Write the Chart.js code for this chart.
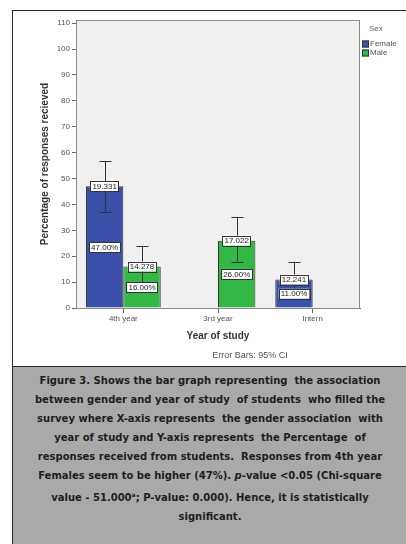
<!DOCTYPE html>
<html>
<head>
<meta charset="utf-8">
<script src="https://cdn.jsdelivr.net/npm/chart.js@4"></script>
<style>
  html, body { margin: 0; padding: 0; background: #fff; width: 406px; height: 544px; overflow: hidden; }
  #frame { position: absolute; left: 12px; top: 10px; width: 400px; height: 355px; border: 1.5px solid #2a2a2a; }
  #chart { position: absolute; left: 0; top: 0; }
  #caption {
    position: absolute; left: 12px; top: 366px; width: 400px; height: 190px;
    background: #a9a9a9; border-left: 1.5px solid #2a2a2a; border-top: 1.5px solid #2a2a2a;
    font-family: "DejaVu Sans", Verdana, sans-serif; font-weight: bold; font-size: 10px;
    color: #1e1e1e; line-height: 19px; text-align: center; padding-top: 4px; box-sizing: border-box;
  }
  #caption .inner { width: 394px; }
</style>
</head>
<body>
<div id="frame"></div>
<canvas id="chart" width="406" height="368"></canvas>
<div id="caption"><div class="inner">
Figure 3. Shows the bar graph representing &nbsp;the association<br>
between gender and year of study &nbsp;of students &nbsp;who filled the<br>
survey where X-axis represents &nbsp;the gender association &nbsp;with<br>
year of study and Y-axis represents &nbsp;the Percentage &nbsp;of<br>
responses received from students. &nbsp;Responses from 4th year<br>
Females seem to be higher (47%). <i>p</i>-value &lt;0.05 (Chi-square<br>
value - 51.000<sup style="font-size:6px">a</sup>; P-value: 0.000). Hence, it is statistically<br>
significant.
</div></div>
<script>
// Categories on the x axis
const categories = ["4th year", "3rd year", "Intern"];

// Bar heights (percent of responses) per sex
const femaleValues = [47, null, 11];
const maleValues = [16, 26, null];

// 95% CI error bar ends
const femaleLow = [37.2, null, 4.3];
const femaleHigh = [56.8, null, 17.8];
const maleLow = [8.2, 17.9, null];
const maleHigh = [23.9, 35.2, null];

// Numbers printed in the box at the top of each bar
const femaleStat = ["19.331", null, "12.241"];
const maleStat = ["14.278", "17.022", null];

// Y axis ticks
const yTicks = [0, 10, 20, 30, 40, 50, 60, 70, 80, 90, 100, 110];

const errorLow = [femaleLow, maleLow];
const errorHigh = [femaleHigh, maleHigh];
const topStats = [femaleStat, maleStat];

function labelBox(ctx, text, x, y) {
    ctx.font = "8px Arial, 'Liberation Sans'";
    const w = ctx.measureText(text).width + 4;
    const h = 10;
    ctx.fillStyle = "#ffffff";
    ctx.fillRect(x - w / 2, y - h / 2, w, h);
    ctx.strokeStyle = "#333";
    ctx.lineWidth = 1;
    ctx.strokeRect(Math.round(x - w / 2) + 0.5, Math.round(y - h / 2) + 0.5, Math.round(w), h);
    ctx.fillStyle = "#222";
    ctx.textAlign = "center";
    ctx.textBaseline = "middle";
    ctx.fillText(text, x, y + 0.5);
}

// Plot background, frame, error bars, label boxes, legend and note
const spssPlugin = {
    id: "spss",
    beforeDatasetsDraw(chart) {
        const { ctx, chartArea: a } = chart;
        ctx.save();
        ctx.fillStyle = "#f0f0f0";
        ctx.fillRect(a.left, a.top, a.right - a.left, a.bottom - a.top);
        ctx.restore();
    },
    afterDatasetsDraw(chart) {
        const { ctx, chartArea: a } = chart;
        const yScale = chart.scales.y;
        ctx.save();
        ctx.strokeStyle = "#8a8a8a";
        ctx.lineWidth = 1;
        ctx.strokeRect(a.left + 0.5, a.top + 0.5, a.right - a.left - 1, a.bottom - a.top);

        chart.data.datasets.forEach((ds, di) => {
            const meta = chart.getDatasetMeta(di);
            meta.data.forEach((bar, i) => {
                if (ds.data[i] == null) return;
                const x = Math.round(bar.x) + 0.5;
                const lo = yScale.getPixelForValue(errorLow[di][i]);
                const hi = yScale.getPixelForValue(errorHigh[di][i]);
                ctx.strokeStyle = "#333";
                ctx.lineWidth = 1;
                ctx.beginPath();
                ctx.moveTo(x, lo); ctx.lineTo(x, hi);
                ctx.moveTo(x - 6, Math.round(hi) + 0.5); ctx.lineTo(x + 6, Math.round(hi) + 0.5);
                ctx.moveTo(x - 6, Math.round(lo) + 0.5); ctx.lineTo(x + 6, Math.round(lo) + 0.5);
                ctx.stroke();
            });
        });
        chart.data.datasets.forEach((ds, di) => {
            const meta = chart.getDatasetMeta(di);
            meta.data.forEach((bar, i) => {
                const v = ds.data[i];
                if (v == null) return;
                labelBox(ctx, topStats[di][i], bar.x, yScale.getPixelForValue(v));
                labelBox(ctx, v.toFixed(2) + "%", bar.x, yScale.getPixelForValue(v / 2));
            });
        });

        // legend
        ctx.font = "8px Arial, 'Liberation Sans'";
        ctx.textAlign = "left";
        ctx.textBaseline = "middle";
        ctx.fillStyle = "#666";
        ctx.fillText("Sex", 369, 29);
        chart.data.datasets.forEach((ds, di) => {
            const y = 44 + di * 9;
            ctx.fillStyle = ds.backgroundColor;
            ctx.fillRect(362, y - 3.5, 7, 7);
            ctx.strokeStyle = "#333";
            ctx.strokeRect(362.5, y - 3, 6, 6);
            ctx.fillStyle = "#555";
            ctx.fillText(ds.label, 370, y);
        });

        ctx.font = "9px Arial, 'Liberation Sans'";
        ctx.textAlign = "center";
        ctx.fillStyle = "#555";
        ctx.fillText("Error Bars: 95% CI", 250, 356);
        ctx.restore();
    }
};

new Chart(document.getElementById("chart"), {
    type: "bar",
    data: {
        labels: categories,
        datasets: [
            { label: "Female", data: femaleValues, backgroundColor: "#3b50a8", borderColor: "#333", borderWidth: 1 },
            { label: "Male", data: maleValues, backgroundColor: "#33b845", borderColor: "#333", borderWidth: 1 }
        ]
    },
    options: {
        responsive: false,
        devicePixelRatio: 1,
        animation: false,
        categoryPercentage: 0.79,
        barPercentage: 1,
        layout: { padding: { left: 38, top: 20, right: 46, bottom: 26 } },
        plugins: {
            legend: { display: false },
            tooltip: { enabled: false }
        },
        scales: {
            x: {
                grid: { display: true, drawOnChartArea: false, drawTicks: true, tickLength: 5, tickColor: "#666", offset: false },
                border: { color: "#666" },
                ticks: { color: "#555", font: { size: 8, family: "Arial" }, padding: 1 },
                title: { display: true, text: "Year of study", color: "#333", font: { size: 10, weight: "bold", family: "Arial" }, padding: 0 },
                afterFit(scale) { scale.height = 34; }
            },
            y: {
                min: 0,
                max: 111.2,
                grid: { display: true, drawOnChartArea: false, drawTicks: true, tickLength: 4, tickColor: "#666" },
                border: { color: "#555" },
                ticks: { stepSize: 10, color: "#555", font: { size: 8, family: "Arial" }, padding: 2 },
                afterBuildTicks(scale) { scale.ticks = yTicks.map(v => ({ value: v })); },
                title: { display: true, text: "Percentage of responses recieved", color: "#333", font: { size: 10, weight: "bold", family: "Arial" }, padding: { top: 1, bottom: 0 } },
                afterFit(scale) { scale.width = 38; }
            }
        }
    },
    plugins: [spssPlugin]
});
</script>
</body>
</html>
